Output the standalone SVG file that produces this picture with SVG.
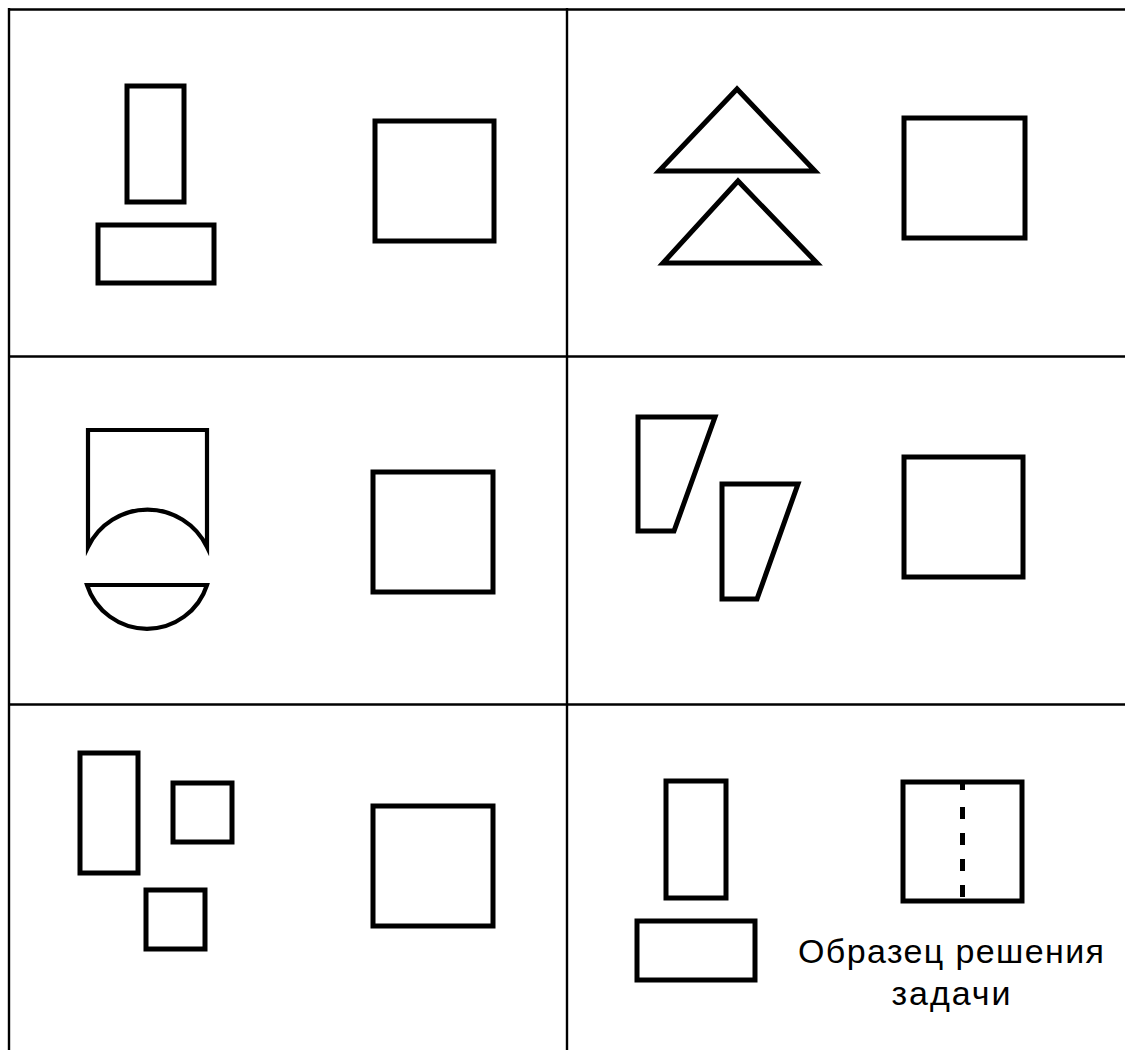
<svg xmlns="http://www.w3.org/2000/svg" width="1125" height="1050" viewBox="0 0 1125 1050">
<style>
.grid{stroke:#000;stroke-width:2.4;fill:none}
.fig{stroke:#000;stroke-width:5;fill:none;stroke-linejoin:miter}
.arc{stroke:#000;stroke-width:4.2;fill:none;stroke-linejoin:miter;stroke-miterlimit:20}
.lbl{font-family:"Liberation Sans",Arial,sans-serif;font-size:34px;fill:#000;text-anchor:middle}
</style>
<rect x="0" y="0" width="1125" height="1050" fill="#fff"/>
<g id="grid" class="grid">
<line x1="8" y1="9.5" x2="1125" y2="9.5"/>
<line x1="9" y1="8" x2="9" y2="1050"/>
<line x1="567" y1="8" x2="567" y2="1050"/>
<line x1="8" y1="356.5" x2="1125" y2="356.5"/>
<line x1="8" y1="704.5" x2="1125" y2="704.5"/>
</g>
<g id="cell1">
<rect class="fig" x="127" y="86" width="57" height="116"/>
<rect class="fig" x="98" y="225" width="116" height="58"/>
<rect class="fig" x="375" y="121" width="119" height="120"/>
</g>
<g id="cell2">
<polygon class="fig" points="737,89 659,171 815,171"/>
<polygon class="fig" points="738,181 663,263 817,263"/>
<rect class="fig" x="904" y="118" width="121" height="120"/>
</g>
<g id="cell3">
<path class="arc" d="M88,547 L88,430 L207,430 L207,547 A66,66 0 0 0 88,547 Z"/>
<path class="arc" d="M87,585 L207,585 A63,63 0 0 1 87,585 Z"/>
<rect class="fig" x="373" y="472" width="120" height="120"/>
</g>
<g id="cell4">
<polygon class="fig" points="638,417 715,417 674,531 638,531"/>
<polygon class="fig" points="722,484 798,484 757,599 722,599"/>
<rect class="fig" x="904" y="457" width="119" height="120"/>
</g>
<g id="cell5">
<rect class="fig" x="80" y="753" width="58" height="120"/>
<rect class="fig" x="173" y="783" width="59" height="59"/>
<rect class="fig" x="146" y="890" width="59" height="59"/>
<rect class="fig" x="373" y="806" width="120" height="120"/>
</g>
<g id="cell6">
<rect class="fig" x="666" y="781" width="60" height="117"/>
<rect class="fig" x="637" y="921" width="118" height="59"/>
<rect class="fig" x="903" y="782" width="119" height="119"/>
<line x1="962.5" y1="781" x2="962.5" y2="897" stroke="#000" stroke-width="5" stroke-dasharray="9 17 12 14 12 14 12 14 12"/>
<text class="lbl" x="951" y="963" textLength="306" lengthAdjust="spacing">Образец решения</text>
<text class="lbl" x="951" y="1005" textLength="119" lengthAdjust="spacing">задачи</text>
</g>
</svg>
